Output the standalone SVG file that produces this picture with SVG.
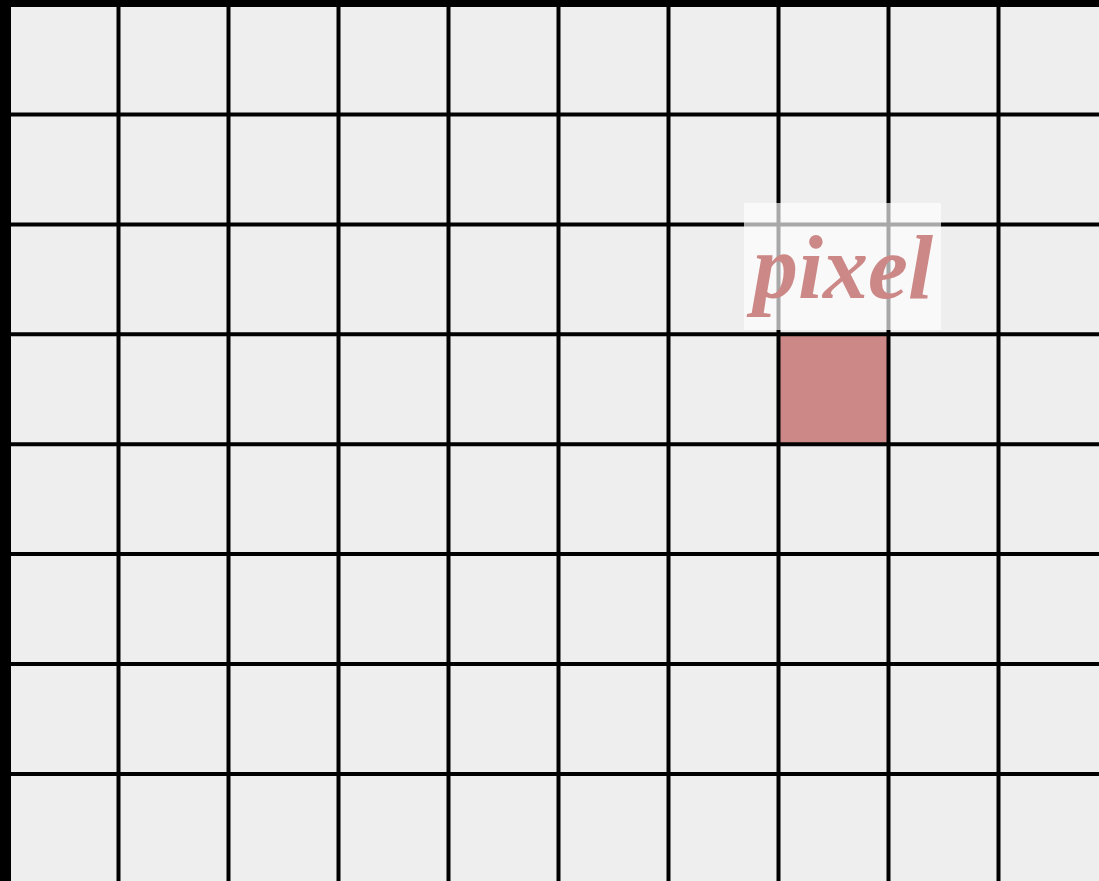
<svg xmlns="http://www.w3.org/2000/svg" width="1099" height="881" viewBox="0 0 1099 881">
  <style>
    .grid line { stroke: #000; stroke-width: 4; }
    .label { font-family: "Liberation Serif", "Times New Roman", serif; font-weight: bold; font-style: italic; font-size: 90px; fill: #cc8886; }
  </style>
  <rect x="0" y="0" width="1099" height="881" fill="#eeeeee"/>
  <g id="highlight-pixel">
    <rect x="778" y="334" width="110" height="110" fill="#cc8886"/>
  </g>
  <g class="grid" id="grid">
    <rect x="0" y="0" width="11" height="881" fill="#000"/>
    <rect x="0" y="0" width="1099" height="7" fill="#000"/>
    <line x1="118.5" y1="0" x2="118.5" y2="881"/>
    <line x1="228.5" y1="0" x2="228.5" y2="881"/>
    <line x1="338.5" y1="0" x2="338.5" y2="881"/>
    <line x1="448.5" y1="0" x2="448.5" y2="881"/>
    <line x1="558.5" y1="0" x2="558.5" y2="881"/>
    <line x1="668.5" y1="0" x2="668.5" y2="881"/>
    <line x1="778.5" y1="0" x2="778.5" y2="881"/>
    <line x1="888.5" y1="0" x2="888.5" y2="881"/>
    <line x1="998.5" y1="0" x2="998.5" y2="881"/>
    <line x1="0" y1="114.5" x2="1099" y2="114.5"/>
    <line x1="0" y1="224.4" x2="1099" y2="224.4"/>
    <line x1="0" y1="334.3" x2="1099" y2="334.3"/>
    <line x1="0" y1="444.2" x2="1099" y2="444.2"/>
    <line x1="0" y1="554.1" x2="1099" y2="554.1"/>
    <line x1="0" y1="664" x2="1099" y2="664"/>
    <line x1="0" y1="773.9" x2="1099" y2="773.9"/>
  </g>
  <g id="label-pixel">
    <rect x="744" y="203" width="197" height="127" fill="#ffffff" fill-opacity="0.66"/>
    <text class="label" x="843" y="298" text-anchor="middle">pixel</text>
  </g>
</svg>
